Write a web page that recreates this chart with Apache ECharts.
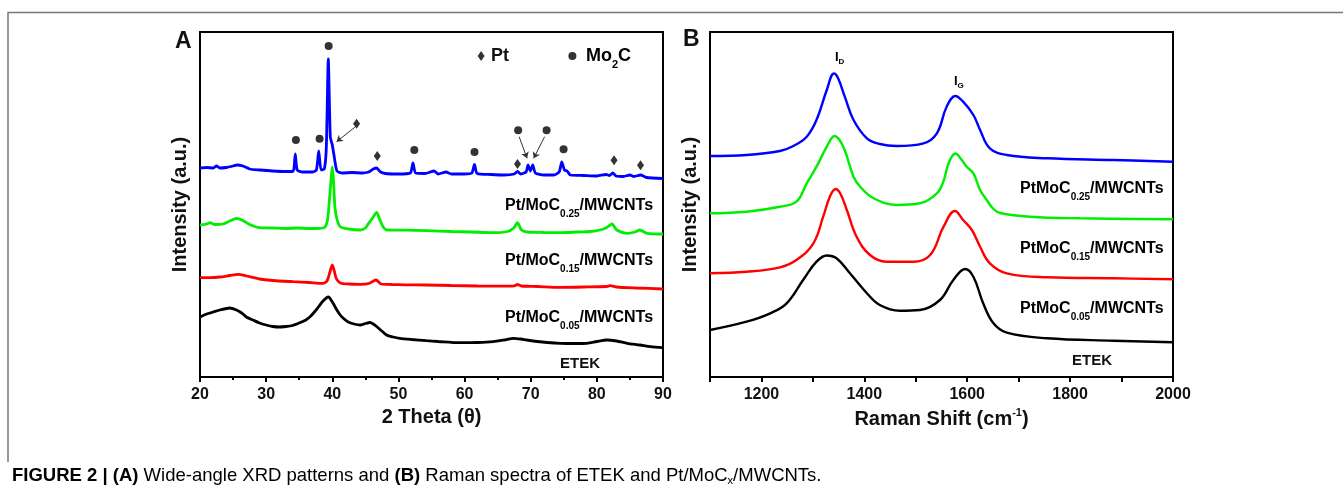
<!DOCTYPE html>
<html>
<head>
<meta charset="utf-8">
<script src="https://cdn.jsdelivr.net/npm/echarts@6/dist/echarts.min.js"></script>
<style>
  html, body { margin: 0; padding: 0; background: #fff; }
  #chart { width: 1343px; height: 489px; }
</style>
</head>
<body>
<div id="chart"></div>
<script>
// ---- panel A: XRD (2 theta, stacked intensity in arbitrary units) ----
const xrdTicks = [20, 30, 40, 50, 60, 70, 80, 90];

const xrdBlue = [[20,209],[21,209.5],[22,209],[22.5,211],[23,209],[24,209.5],[25,211],[25.6,212],[26.5,211],[27.5,208],
  [29,207],[31,206],[33,205.5],[34,205.5],[34.2,208],[34.4,223],[34.7,207],[35.5,205],[37,205],[37.6,207],
  [37.95,226],[38.3,207],[38.8,208],[39.1,230],[39.4,318],[39.7,240],[40.0,232],[40.3,220],[40.7,206],[41.5,204],
  [43,204.5],[44.5,204],[45.5,205],[46.2,208],[46.7,209],[47.3,205],[48,203.5],[50,203],[51.8,204],[52.2,214],
  [52.6,204],[54,203.5],[55.4,206],[56,203],[57.2,205],[58,203],[60,203],[61.1,204],[61.5,212.5],[61.9,203.5],
  [64,202.5],[66,202],[67.5,203],[68,205.5],[68.5,203],[69.3,205],[69.6,212],[69.95,206],[70.3,212],[70.7,204],
  [72,202],[73.5,202],[74.3,205],[74.7,215],[75.1,207],[75.5,206],[76,202],[78,201.5],[80,201],[81.4,202.5],
  [81.9,201.5],[82.4,204],[82.9,201],[84,200.5],[85,202],[85.6,200.5],[86.6,202],[87.5,199.5],[90,198.5]];

const xrdGreen = [[20,152],[21,153],[21.5,154.3],[22.2,152.5],[23.5,153],[24.5,156],[25.5,158.7],[26.5,156.5],[27.5,152.5],
  [29,149.3],[31,149],[33,148.5],[34.6,149],[36.5,148.5],[38.2,148.7],[38.9,150],[39.3,158],[39.6,180],[39.85,200],
  [40.0,210],[40.15,200],[40.4,170],[40.7,158],[41.2,150.3],[42.5,148],[44.2,147],[45,149],[45.5,153.7],[46.2,160],
  [46.7,164.7],[47.2,157],[47.7,150],[48.2,147],[51,146.8],[54.2,146.3],[58,145.5],[61,145],[64.3,144.3],[66.5,145.5],
  [67.4,148.7],[68.0,154.3],[68.6,147],[69.5,145],[72,144.5],[74.5,144.3],[77,145],[79,145.5],[80.5,147],[81.5,149.5],
  [82.3,153],[83.0,147],[84.6,143.7],[85.8,145],[86.5,147],[87.6,143.7],[90,143]];

const xrdRed = [[20,99.3],[21.5,99.3],[23,100],[24.5,101.5],[25.8,102.7],[27,101],[29,98],[31,96.5],[34.1,95.3],[36.5,94.5],
  [38.6,93.7],[39.2,96],[39.6,104],[40.0,112],[40.3,106],[40.6,98.5],[41.2,94],[42.5,93],[44.2,92.7],[45.5,93.5],
  [46.6,97],[47.4,93],[49,92.5],[51,92.2],[54.2,92],[58,91.5],[62,91],[66,90.8],[67.5,91.2],[68,92.5],[68.6,91],
  [71,90.5],[74.5,89.7],[78,90],[81.5,90.5],[82,91.3],[83,90],[86,89],[90,88]];

const xrdEtek = [[20,60],[21,63],[22,65],[23,67],[24.5,69],[25.5,67],[26.3,64],[27,60],[28,57],[29,54],[30,52],[31,50.5],
  [32,50],[33,50.5],[34,51.5],[35,54],[36,57],[36.6,60],[37.3,65],[37.9,70],[38.6,76],[39.4,80],[40.1,74],[40.6,68],
  [41.2,62],[41.8,58],[42.4,55],[43.3,53],[44.2,52],[45,53.5],[45.7,54.5],[46.2,53],[46.7,50.5],[47.3,47],[48.2,42],
  [49.2,40],[50.2,38.7],[52,37.5],[54.2,36.3],[56,35.5],[59.3,34.3],[62,34.5],[64.3,35.3],[66,37],[67.4,38.7],[68.5,38],
  [69.4,37],[71,35.5],[72.5,34.5],[74.5,33.7],[76.5,33.5],[78.5,33.7],[80,35.5],[81.5,37],[83,36],[84.6,33.7],
  [86.5,32],[88.1,30.3],[90,29.3]];

// peak markers (● Mo2C, ◆ Pt) and the two legend marks
const mo2cMarks = [[39.45,331],[34.5,237],[38.08,238.3],[52.4,227],[61.5,225],[68.1,246.7],[72.4,246.7],[74.97,227.7]];
const ptMarks = [[43.67,253.3],[46.8,221],[68.0,213],[82.6,216.7],[86.6,211.7]];
const legendPt = [[62.5,321]];
const legendMo2c = [[76.3,321]];
const xrdArrows = [
  [[43.4,249.7],[40.65,235.3]],
  [[68.25,240.3],[69.45,218.7]],
  [[72.1,240.3],[70.45,218.7]]
];

// ---- panel B: Raman ----
const ramanBlue = [[1100,221],[1171,222],[1236,226],[1262,231],[1288,240.3],[1307,257],[1327,287],[1341,303.5],[1349,298.7],
  [1362,280.3],[1379,257],[1405,238.7],[1430,233],[1463,231],[1515,233.7],[1541,243.7],[1560,270.3],[1577,281],
  [1592,275.3],[1612,262],[1625,247],[1644,228.7],[1677,222],[1755,218.7],[1884,217],[2000,215.3]];
const ramanGreen = [[1100,163.7],[1171,165.3],[1236,170.3],[1268,175.3],[1288,193.7],[1307,210.3],[1327,230.3],[1342,241],
  [1359,230.3],[1379,200.3],[1392,190.3],[1418,178.7],[1463,172],[1508,173.7],[1541,183.7],[1554,196],[1564,214],
  [1577,223.5],[1588,218],[1599,210.3],[1612,203.7],[1625,187],[1638,177],[1651,168],[1664,164],[1722,160.3],
  [1819,158.7],[2000,157.7]];
const ramanRed = [[1100,103.7],[1171,105.3],[1236,109.7],[1268,117],[1301,133.7],[1320,160.3],[1333,180.3],[1344,188],
  [1353,183.7],[1366,167],[1385,140.3],[1411,122],[1443,115.3],[1495,115.3],[1528,122],[1554,150.3],[1576,166],
  [1592,157],[1609,147],[1625,130.3],[1644,113.7],[1677,103.7],[1755,99.7],[1884,98.7],[2000,97.7]];
const ramanEtek = [[1100,47],[1171,55.3],[1217,63.7],[1249,73.7],[1281,97],[1307,115.3],[1327,121.5],[1346,118.7],
  [1372,103.7],[1405,83.7],[1430,72],[1469,66.3],[1508,67],[1547,77],[1573,97],[1596,108],[1612,100.3],[1631,73.7],
  [1651,53.7],[1677,44.3],[1755,38.7],[1884,36.3],[2000,34.7]];

const FONT = '"Liberation Sans", Arial, Helvetica, sans-serif';

// rich styles: main text + lowered subscript
function subRich(size, subSize, drop) {
  return {
    m: { fontFamily: FONT, fontSize: size, fontWeight: 'bold', color: '#111', lineHeight: size + 2, verticalAlign: 'top' },
    s: { fontFamily: FONT, fontSize: subSize, fontWeight: 'bold', color: '#111', lineHeight: subSize, padding: [drop, 0, 0, 0], verticalAlign: 'top' }
  };
}

function label(x, y, text, size, subSize, drop) {
  return {
    type: 'text', x: x, y: y,
    style: { text: text, rich: subRich(size, subSize, drop), align: 'left', verticalAlign: 'middle' }
  };
}

const chart = echarts.init(document.getElementById('chart'));

const lineSeries = (name, data, color, axis, width, smooth) => ({
  name: name, type: 'line', xAxisIndex: axis, yAxisIndex: axis, data: data,
  showSymbol: false, smooth: smooth, lineStyle: { color: color, width: width }, z: 3
});

const option = {
  animation: false,
  backgroundColor: '#fff',
  grid: [
    { left: 200, top: 32, width: 463, height: 345, show: true, borderColor: '#000', borderWidth: 2, backgroundColor: 'transparent' },
    { left: 710, top: 32, width: 463, height: 345, show: true, borderColor: '#000', borderWidth: 2, backgroundColor: 'transparent' }
  ],
  xAxis: [
    {
      type: 'value', gridIndex: 0, min: 20, max: 90, interval: 10,
      axisLine: { lineStyle: { color: '#000', width: 2 } },
      axisTick: { length: 5, lineStyle: { width: 2, color: '#000' } },
      minorTick: { show: true, splitNumber: 2, length: 3, lineStyle: { width: 2, color: '#000' } },
      splitLine: { show: false },
      axisLabel: { margin: 10, fontFamily: FONT, fontSize: 16, fontWeight: 'bold', color: '#111',
        formatter: v => xrdTicks.includes(v) ? String(v) : '' },
      name: '2 Theta (θ)', nameLocation: 'middle', nameGap: 29,
      nameTextStyle: { fontFamily: FONT, fontSize: 20, fontWeight: 'bold', color: '#111' }
    },
    {
      type: 'value', gridIndex: 1, min: 1100, max: 2000, interval: 100,
      axisLine: { lineStyle: { color: '#000', width: 2 } },
      axisTick: { length: 5, lineStyle: { width: 2, color: '#000' } },
      splitLine: { show: false },
      axisLabel: { margin: 10, fontFamily: FONT, fontSize: 16, fontWeight: 'bold', color: '#111',
        formatter: v => (v % 200 === 0 ? String(v) : '') },
      name: '{n|Raman Shift (cm}{p|-1}{n|)}', nameLocation: 'middle', nameGap: 29,
      nameTextStyle: {
        rich: {
          n: { fontFamily: FONT, fontSize: 20, fontWeight: 'bold', color: '#111', lineHeight: 22, verticalAlign: 'bottom' },
          p: { fontFamily: FONT, fontSize: 11, fontWeight: 'bold', color: '#111', lineHeight: 12, verticalAlign: 'top' }
        }
      }
    }
  ],
  yAxis: [0, 1].map(i => ({
    type: 'value', gridIndex: i, min: 0, max: 345,
    axisLine: { show: true, lineStyle: { color: '#000', width: 2 } },
    axisTick: { show: false }, axisLabel: { show: false }, splitLine: { show: false },
    name: 'Intensity (a.u.)', nameLocation: 'middle', nameGap: 10, nameRotate: 90,
    nameTextStyle: { fontFamily: FONT, fontSize: 20, fontWeight: 'bold', color: '#111' }
  })),
  series: [
    lineSeries('ETEK', xrdEtek, '#000000', 0, 2.8, 0.25),
    lineSeries('Pt/MoC0.05', xrdRed, '#ff0000', 0, 2.8, 0.25),
    lineSeries('Pt/MoC0.15', xrdGreen, '#00ee00', 0, 2.8, 0.25),
    lineSeries('Pt/MoC0.25', xrdBlue, '#0000ff', 0, 2.8, 0.2),
    {
      type: 'scatter', xAxisIndex: 0, yAxisIndex: 0, data: mo2cMarks.concat(legendMo2c),
      symbol: 'circle', symbolSize: 8, itemStyle: { color: '#000' }, z: 5
    },
    {
      type: 'scatter', xAxisIndex: 0, yAxisIndex: 0, data: ptMarks.concat(legendPt),
      symbol: 'diamond', symbolSize: [7, 10], itemStyle: { color: '#000' }, z: 5
    },
    {
      type: 'lines', coordinateSystem: 'cartesian2d', xAxisIndex: 0, yAxisIndex: 0,
      data: xrdArrows.map(c => ({ coords: c })),
      symbol: ['none', 'arrow'], symbolSize: 6,
      lineStyle: { color: '#333', width: 1, opacity: 1 }, z: 5
    },
    lineSeries('R-ETEK', ramanEtek, '#000000', 1, 2.4, 0.4),
    lineSeries('R-0.05', ramanRed, '#ff0000', 1, 2.4, 0.4),
    lineSeries('R-0.15', ramanGreen, '#00ee00', 1, 2.4, 0.4),
    lineSeries('R-0.25', ramanBlue, '#0000ff', 1, 2.4, 0.4)
  ],
  graphic: [
    // frame of the figure
    { type: 'polyline', shape: { points: [[8, 462], [8, 12.5], [1343, 12.5]] }, style: { stroke: '#777', lineWidth: 1.5, fill: null } },
    { type: 'text', x: 175, y: 42, style: { text: 'A', fontFamily: FONT, fontSize: 23, fontWeight: 'bold', fill: '#111', verticalAlign: 'middle' } },
    { type: 'text', x: 683, y: 40, style: { text: 'B', fontFamily: FONT, fontSize: 23, fontWeight: 'bold', fill: '#111', verticalAlign: 'middle' } },
    // Pt / Mo2C legend text
    { type: 'text', x: 491, y: 56, style: { text: 'Pt', fontFamily: FONT, fontSize: 18, fontWeight: 'bold', fill: '#111', verticalAlign: 'middle' } },
    label(586, 57, '{m|Mo}{s|2}{m|C}', 18, 11, 12),
    // sample labels panel A
    label(505, 207, '{m|Pt/MoC}{s|0.25}{m|/MWCNTs}', 16, 10, 11),
    label(505, 262, '{m|Pt/MoC}{s|0.15}{m|/MWCNTs}', 16, 10, 11),
    label(505, 319, '{m|Pt/MoC}{s|0.05}{m|/MWCNTs}', 16, 10, 11),
    { type: 'text', x: 560, y: 364, style: { text: 'ETEK', fontFamily: FONT, fontSize: 15, fontWeight: 'bold', fill: '#111', verticalAlign: 'middle' } },
    // sample labels panel B
    label(1020, 190, '{m|PtMoC}{s|0.25}{m|/MWCNTs}', 16, 10, 11),
    label(1020, 250, '{m|PtMoC}{s|0.15}{m|/MWCNTs}', 16, 10, 11),
    label(1020, 310, '{m|PtMoC}{s|0.05}{m|/MWCNTs}', 16, 10, 11),
    { type: 'text', x: 1072, y: 361, style: { text: 'ETEK', fontFamily: FONT, fontSize: 15, fontWeight: 'bold', fill: '#111', verticalAlign: 'middle' } },
    // I_D and I_G
    label(835, 58, '{m|I}{s|D}', 13, 8, 7),
    label(954, 82, '{m|I}{s|G}', 13, 8, 7),
    // caption
    {
      type: 'text', x: 12, y: 477,
      style: {
        text: '{b|FIGURE 2 | (A)}{r| Wide-angle XRD patterns and }{b|(B)}{r| Raman spectra of ETEK and Pt/MoC}{x|x}{r|/MWCNTs.}',
        verticalAlign: 'middle',
        rich: {
          b: { fontFamily: FONT, fontSize: 18.5, fontWeight: 'bold', color: '#111', lineHeight: 21, verticalAlign: 'top' },
          r: { fontFamily: FONT, fontSize: 18.5, color: '#222', lineHeight: 21, verticalAlign: 'top' },
          x: { fontFamily: FONT, fontSize: 11, color: '#222', lineHeight: 11, padding: [9, 0, 0, 0], verticalAlign: 'top' }
        }
      }
    }
  ]
};

chart.setOption(option);
</script>
</body>
</html>
